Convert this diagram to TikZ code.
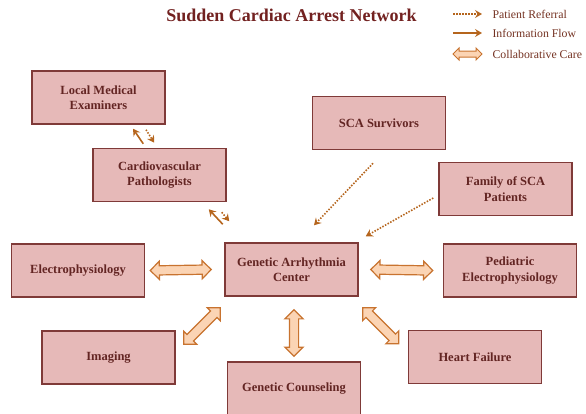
\documentclass[tikz,border=0pt]{standalone}
\usepackage{fontspec}
\setmainfont{Liberation Serif}
\usepackage{xcolor}
\usepackage{tikz}
\usetikzlibrary{arrows.meta,positioning,shapes.arrows,calc}

\definecolor{boxfill}{HTML}{E6B9B8}
\definecolor{boxline}{HTML}{7F3A38}
\definecolor{boxtext}{HTML}{632523}
\definecolor{flowline}{HTML}{B5651D}
\definecolor{collabfill}{HTML}{FBD4B4}
\definecolor{collabline}{HTML}{C8732F}

\begin{document}
\begin{tikzpicture}[
  x=1pt, y=-1pt,
  unit/.style={rectangle, draw=boxline, fill=boxfill, line width=1.5pt, minimum width=133pt, minimum height=53pt, align=center, text=boxtext, font=\fontsize{12.5}{15.5}\selectfont\bfseries},
  refer/.style={line width=1.6pt, draw=flowline, dash pattern=on 1.5pt off 1.5pt, -{Stealth[length=7pt, width=8pt, inset=2.5pt]}},
  info/.style={line width=1.6pt, draw=flowline, -{Stealth[length=7pt, width=8pt, inset=2.5pt]}},
  fatarrow/.style={double arrow, draw=collabline, fill=collabfill, line width=1.2pt, inner xsep=0pt, inner ysep=4pt, double arrow head extend=4.5pt, outer sep=0pt},
  collab/.style={to path={let \p1=($(\tikztotarget)-(\tikztostart)$), \n1={veclen(\x1,\y1)} in (\tikztostart) -- (\tikztotarget) node[midway, sloped, fatarrow, minimum height=\n1] {}}},
  keytext/.style={anchor=west, text=boxtext!80!flowline, font=\fontsize{11.8}{14}\selectfont}
]
\clip (0,0) rectangle (586,413);

% Title
\node[text=boxtext!90!red, font=\fontsize{18}{20}\selectfont\bfseries] (title) at (291.5,15) {Sudden Cardiac Arrest Network};

% Legend
\node[keytext] (kref) at (489,14) {Patient Referral};
\node[keytext] (kinfo) at (489,33) {Information Flow};
\node[keytext] (kcol) at (489,54) {Collaborative Care};
\draw[refer] ([xshift=-36]kref.west) -- ([xshift=-7]kref.west);
\draw[info] ([xshift=-36]kinfo.west) -- ([xshift=-7]kinfo.west);
\path[fatarrow/.append style={inner ysep=2.5pt, double arrow head extend=3pt, line width=1pt}]
  ([xshift=-36]kcol.west) to[collab] ([xshift=-7]kcol.west);

% Upper left chain
\node[unit] (lme) at (98.5,97.5) {Local Medical\\Examiners};
\node[unit] (cp) at (159.5,175) {Cardiovascular\\Pathologists};

% Referral sources
\node[unit] (sur) at (379,123) {SCA Survivors};
\node[unit] (fam) at (505.5,189) {Family of SCA\\Patients};

% Centre
\node[unit] (gac) at (291.5,269.5) {Genetic Arrhythmia\\Center};

% Collaborating services
\node[unit] (ep) at (78,270.5) {Electrophysiology};
\node[unit] (ped) at (510,270.5) {Pediatric\\Electrophysiology};
\node[unit] (img) at (108.5,357.5) {Imaging};
\node[unit] (hf) at (475,357) {Heart Failure};
\node[unit] (gc) at (294,388.5) {Genetic Counseling};

% Pathology links
\draw[info] ([shift={(51,-4)}]cp.north west) -- ([shift={(34.5,4)}]lme.south);
\draw[refer] ([shift={(47.5,5)}]lme.south) -- ([shift={(62,-5)}]cp.north west);
\draw[info] ([shift={(-4,22)}]cp.south east) -- ([shift={(-18,7)}]cp.south east);
\draw[refer] ([shift={(-5,10)}]cp.south east) -- ([shift={(5,-21)}]gac.north west);

% Patient referrals
\draw[refer] ([shift={(-6,13)}]sur.south) -- ([shift={(22.5,-17)}]gac.north);
\draw[refer] ([shift={(-5,9)}]fam.west) -- ([shift={(7,-6)}]gac.north east);

% Collaborative care
\path ([xshift=-13]gac.west) to[collab] ([xshift=5]ep.east);
\path ([xshift=12]gac.east) to[collab] ([xshift=-10]ped.west);
\path ([shift={(-4,11)}]gac.south west) to[collab] ([shift={(8,14)}]img.north east);
\path ([shift={(2.5,13)}]gac.south) to[collab] ([shift={(0,-5)}]gc.north);
\path ([shift={(4,11)}]gac.south east) to[collab] ([shift={(-9,14)}]hf.north west);

\end{tikzpicture}
\end{document}
